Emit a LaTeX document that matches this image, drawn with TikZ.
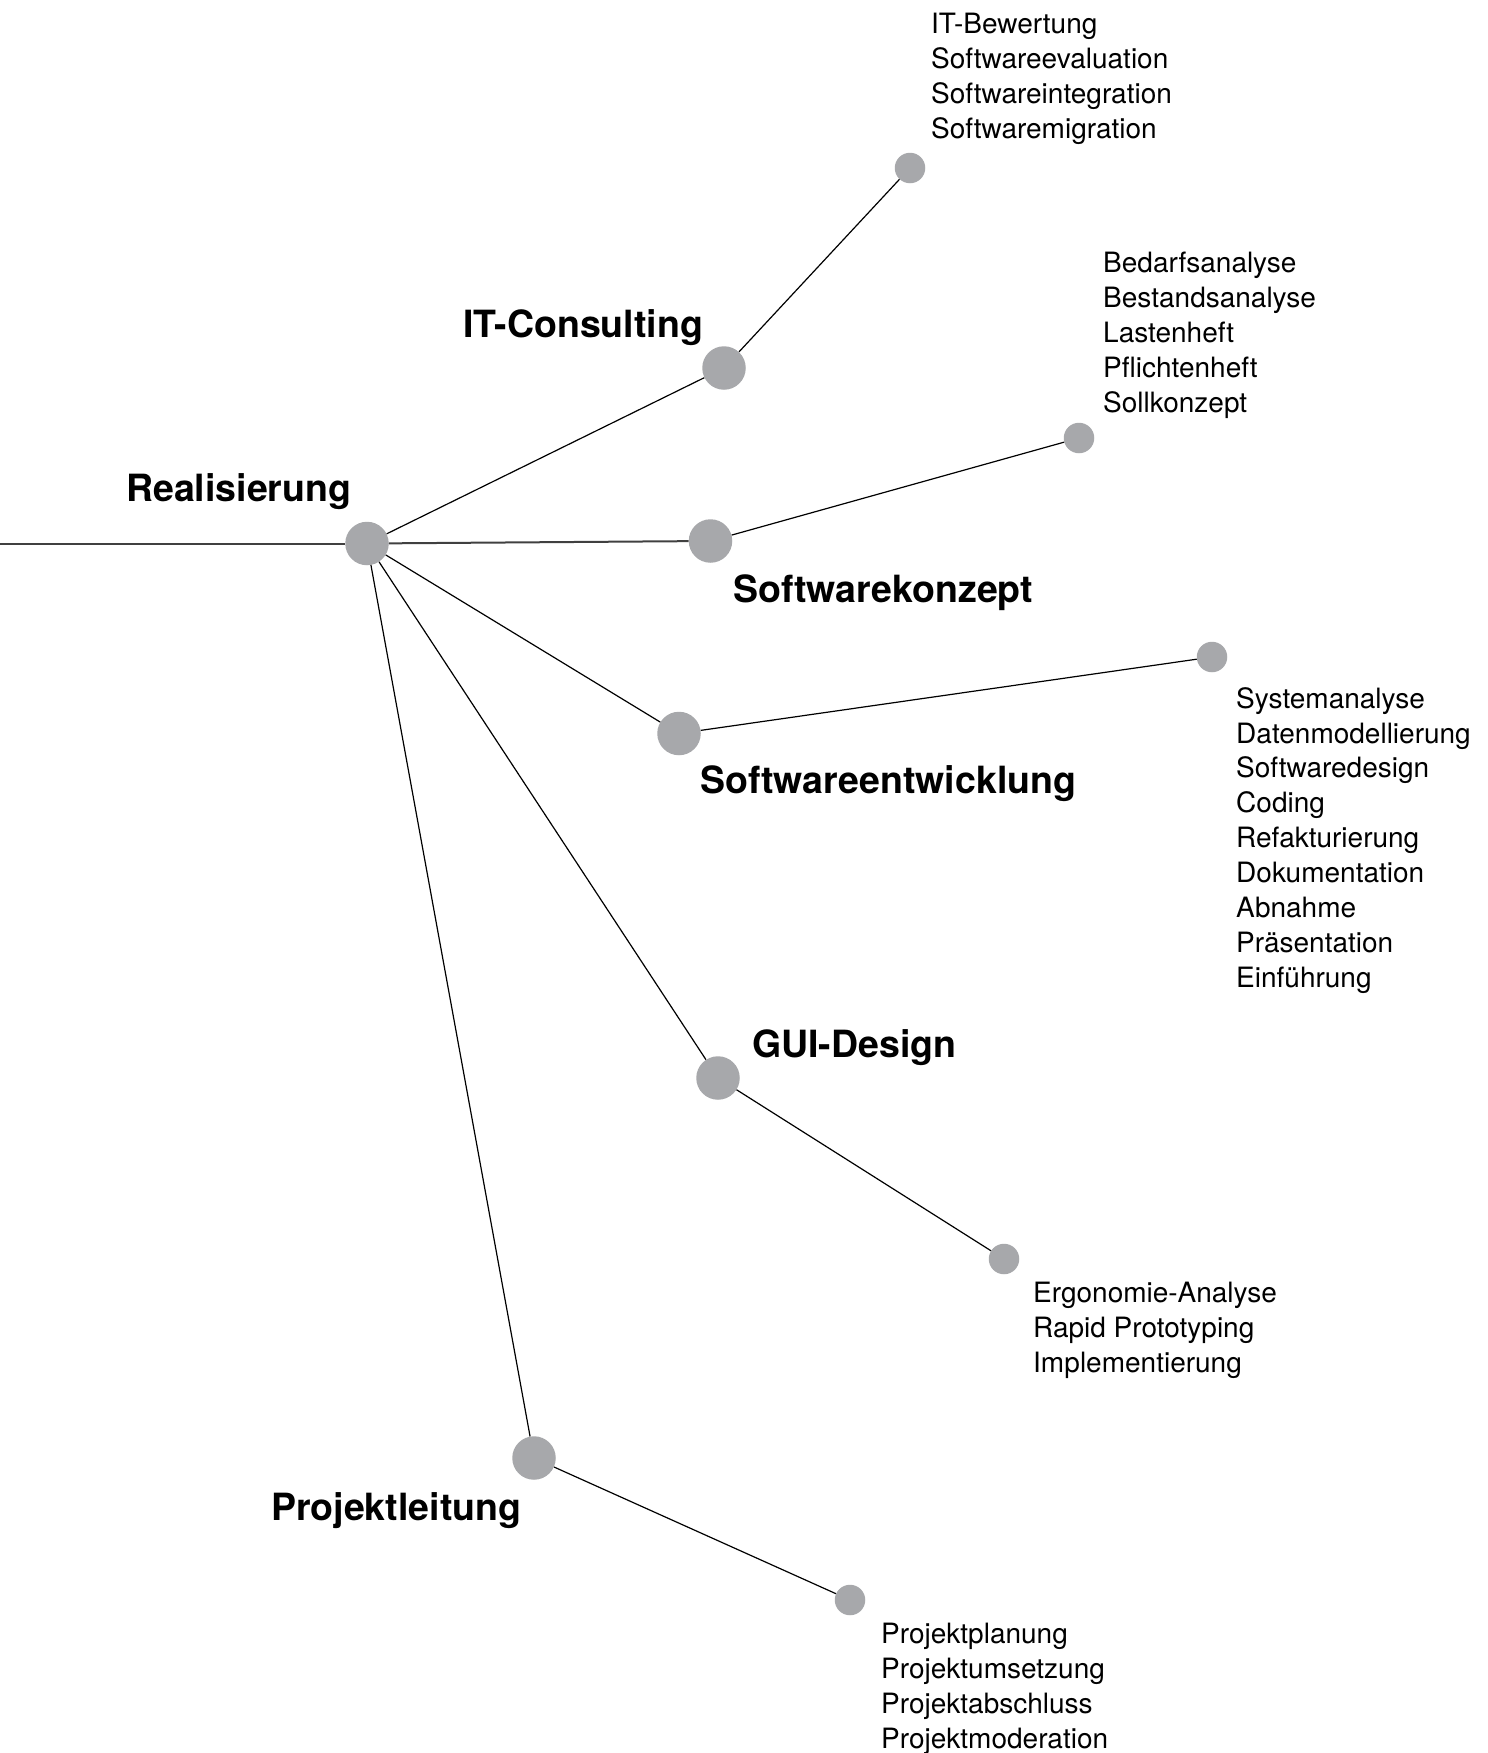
\documentclass[tikz,border=0pt]{standalone}
\usepackage{fontspec}
\setmainfont{TeX Gyre Heros}
\definecolor{dotgray}{HTML}{A7A8AB}
\definecolor{maingray}{HTML}{404040}
\begin{document}
\begin{tikzpicture}[x=1pt,y=-1pt,
  big/.style={circle,fill=dotgray,minimum size=43.5pt,inner sep=0pt},
  small/.style={circle,fill=dotgray,minimum size=30.5pt,inner sep=0pt},
  head/.style={font=\fontsize{37.5}{44}\selectfont\bfseries,anchor=base west,inner sep=0pt},
  list/.style={font=\fontsize{28}{34.9}\selectfont,align=left,anchor=north west,inner sep=0pt},
  conn/.style={draw=black,line width=1.2pt},
  mainconn/.style={draw=maingray,line width=2pt}]
\useasboundingbox (0,0) rectangle (1488,1753);

% circles
\node[big] (R) at (367,543.5) {};
\node[big] (IT) at (724,368) {};
\node[small] (ITs) at (910,168) {};
\node[big] (SK) at (710.5,541) {};
\node[small] (SKs) at (1079,438) {};
\node[big] (SE) at (679,733.5) {};
\node[small] (SEs) at (1212,657) {};
\node[big] (GUI) at (718,1078) {};
\node[small] (GUIs) at (1004,1259) {};
\node[big] (PL) at (534,1458) {};
\node[small] (PLs) at (850,1600) {};
\coordinate (L) at (0,543.5);

% connectors
\draw[mainconn] (L) -- (R);
\draw[mainconn] (R) -- (SK);
\draw[conn] (R) -- (IT);
\draw[conn] (R) -- (SE);
\draw[conn] (R) -- (GUI);
\draw[conn] (R) -- (PL);
\draw[conn] (IT) -- (ITs);
\draw[conn] (SK) -- (SKs);
\draw[conn] (SE) -- (SEs);
\draw[conn] (GUI) -- (GUIs);
\draw[conn] (PL) -- (PLs);

% headings
\node[head] (tR) at (126,501) {Realisierung};
\node[head] (tIT) at (463,337) {IT-Consulting};
\node[head] (tSK) at (733,602) {Softwarekonzept};
\node[head] (tSE) at (700,793) {Softwareentwicklung};
\node[head] (tGUI) at (752,1057) {GUI-Design};
\node[head] (tPL) at (271,1520) {Projektleitung};

% lists
\node[list] (lIT) at (931,13) {IT-Bewertung\\Softwareevaluation\\Softwareintegration\\Softwaremigration};
\node[list] (lSK) at (1103,252) {Bedarfsanalyse\\Bestandsanalyse\\Lastenheft\\Pflichtenheft\\Sollkonzept};
\node[list] (lSE) at (1236,687) {Systemanalyse\\Datenmodellierung\\Softwaredesign\\Coding\\Refakturierung\\Dokumentation\\Abnahme\\Präsentation\\Einführung};
\node[list] (lGUI) at (1033,1282) {Ergonomie-Analyse\\Rapid Prototyping\\Implementierung};
\node[list] (lPL) at (881,1623) {Projektplanung\\Projektumsetzung\\Projektabschluss\\Projektmoderation};
\end{tikzpicture}
\end{document}
